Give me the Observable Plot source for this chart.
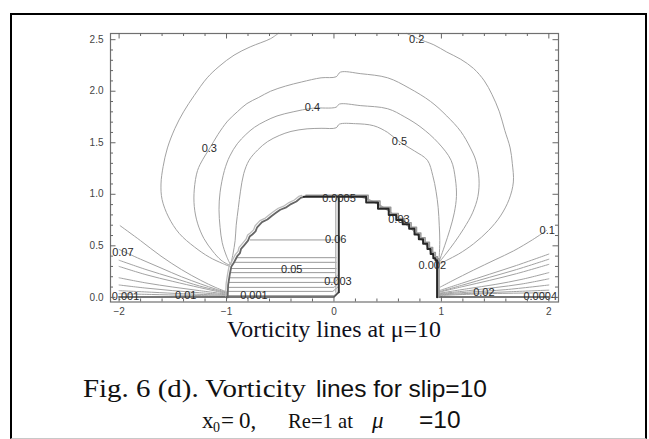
<!DOCTYPE html>
<html>
<head>
<meta charset="utf-8">
<script src="https://cdn.jsdelivr.net/npm/d3@7"></script>
<script src="https://cdn.jsdelivr.net/npm/@observablehq/plot@0.6"></script>
<style>
  html, body { margin: 0; padding: 0; background: #fff; }
  #page { position: relative; width: 649px; height: 439px; overflow: hidden; background: #fff; }
  #chart { position: absolute; left: 0; top: 0; }
  #box { position: absolute; left: 10px; top: 12.5px; width: 636.5px; height: 426px; box-sizing: border-box;
         border: 2.5px solid #000; border-bottom: 1.5px solid #c8c8c8; }
  #captions { position: absolute; left: 0; top: 0; }
</style>
</head>
<body>
<div id="page">
  <div id="chart"></div>
  <div id="box"></div>
  <svg id="captions" width="649" height="439">
    <text x="227" y="336.5" font-family="Liberation Serif" font-size="23" fill="#10101c" textLength="214" lengthAdjust="spacingAndGlyphs">Vorticity lines at μ=10</text>
    <text x="83" y="397" font-family="Liberation Serif" font-size="25" fill="#111" textLength="223" lengthAdjust="spacingAndGlyphs">Fig. 6 (d). Vorticity</text>
    <text x="316" y="397" font-family="Liberation Sans" font-size="24.5" fill="#111">lines for slip=10</text>
    <text x="202" y="427.5" font-family="Liberation Serif" font-size="23" fill="#111">x</text>
    <text x="213" y="432" font-family="Liberation Serif" font-size="14" fill="#111">0</text>
    <text x="221" y="427.5" font-family="Liberation Serif" font-size="23" fill="#111">=</text>
    <text x="239" y="427.5" font-family="Liberation Serif" font-size="23" fill="#111">0,</text>
    <text x="288" y="427.5" font-family="Liberation Serif" font-size="22" fill="#111" textLength="65" lengthAdjust="spacingAndGlyphs">Re=1 at</text>
    <text x="372" y="427.5" font-family="Liberation Serif" font-size="23" font-style="italic" fill="#111">μ</text>
    <text x="419" y="427.5" font-family="Liberation Sans" font-size="24.5" fill="#111">=10</text>
  </svg>
</div>
<script>
// Axis ticks
const xMajor = [-2, -1, 0, 1, 2];
const xMinor = [-1.8, -1.6, -1.4, -1.2, -0.8, -0.6, -0.4, -0.2, 0.2, 0.4, 0.6, 0.8, 1.2, 1.4, 1.6, 1.8];
const yMajor = [0, 0.5, 1, 1.5, 2, 2.5];
const yMinor = [0.1, 0.2, 0.3, 0.4, 0.6, 0.7, 0.8, 0.9, 1.1, 1.2, 1.3, 1.4, 1.6, 1.7, 1.8, 1.9, 2.1, 2.2, 2.3, 2.4];

// Outer vorticity contours (level 0.2 leaves the top of the frame)
const arc02Left = [[-0.52,2.56],[-0.59,2.51],[-0.78,2.43],[-0.93,2.35],[-1.07,2.24],[-1.18,2.13],[-1.30,1.96],[-1.40,1.80],[-1.48,1.64],[-1.55,1.45],[-1.59,1.27],[-1.61,1.10],[-1.60,0.95],[-1.54,0.78],[-1.44,0.62],[-1.30,0.49],[-1.16,0.39],[-1.04,0.33],[-0.97,0.30]];
const arc02Right = [[0.68,2.56],[0.78,2.51],[0.93,2.45],[1.05,2.38],[1.18,2.31],[1.30,2.22],[1.40,2.10],[1.47,1.97],[1.54,1.80],[1.59,1.62],[1.64,1.45],[1.66,1.30],[1.67,1.12],[1.63,0.95],[1.55,0.79],[1.44,0.65],[1.30,0.52],[1.16,0.42],[1.05,0.36],[0.98,0.32]];
const arc03 = [[-0.97,0.31],[-1.05,0.36],[-1.13,0.45],[-1.21,0.57],[-1.27,0.72],[-1.30,0.88],[-1.30,1.05],[-1.27,1.23],[-1.22,1.34],[-1.16,1.44],[-1.08,1.58],[-0.99,1.71],[-0.90,1.80],[-0.81,1.88],[-0.70,1.94],[-0.59,2.00],[-0.45,2.05],[-0.30,2.09],[-0.12,2.13],[0.02,2.14],[0.06,2.185],[0.25,2.17],[0.50,2.13],[0.70,2.03],[0.90,1.90],[1.05,1.76],[1.18,1.61],[1.27,1.45],[1.32,1.33],[1.35,1.15],[1.34,0.98],[1.29,0.82],[1.21,0.67],[1.12,0.53],[1.04,0.42],[0.98,0.34]];
const arc04 = [[-0.965,0.32],[-1.00,0.40],[-1.04,0.53],[-1.06,0.68],[-1.07,0.85],[-1.06,1.02],[-1.02,1.23],[-0.97,1.37],[-0.90,1.49],[-0.82,1.58],[-0.74,1.65],[-0.64,1.71],[-0.53,1.76],[-0.38,1.80],[-0.20,1.835],[0.02,1.845],[0.05,1.875],[0.25,1.86],[0.50,1.83],[0.66,1.75],[0.81,1.65],[0.97,1.50],[1.09,1.33],[1.13,1.15],[1.14,0.98],[1.12,0.82],[1.08,0.66],[1.03,0.50],[0.99,0.38],[0.975,0.33]];
const arc05 = [[-0.96,0.32],[-0.94,0.42],[-0.92,0.55],[-0.91,0.70],[-0.89,0.87],[-0.87,1.03],[-0.84,1.20],[-0.79,1.33],[-0.71,1.43],[-0.62,1.51],[-0.51,1.57],[-0.40,1.61],[-0.25,1.635],[-0.12,1.64],[0.02,1.645],[0.05,1.68],[0.20,1.685],[0.37,1.665],[0.50,1.60],[0.61,1.51],[0.75,1.42],[0.87,1.33],[0.92,1.18],[0.95,1.03],[0.97,0.87],[0.98,0.70],[0.985,0.55],[0.98,0.40],[0.975,0.33]];

// Fan of low-level contours meeting the left corner (x = -1)
const fanL1 = [[-1.99,0.695],[-1.80,0.55],[-1.61,0.40],[-1.42,0.27],[-1.24,0.165],[-1.10,0.095],[-0.99,0.05]];
const fanL2 = [[-2.0,0.465],[-1.80,0.37],[-1.61,0.285],[-1.42,0.20],[-1.24,0.13],[-1.10,0.08],[-0.99,0.045]];
const fanL3 = [[-2.0,0.36],[-1.75,0.27],[-1.50,0.19],[-1.25,0.11],[-1.10,0.07],[-0.99,0.04]];
const fanL4 = [[-2.0,0.30],[-1.75,0.22],[-1.50,0.155],[-1.25,0.095],[-1.10,0.06],[-0.99,0.035]];
const fanL5 = [[-2.0,0.19],[-1.75,0.14],[-1.50,0.10],[-1.25,0.065],[-0.99,0.03]];
const fanL6 = [[-2.0,0.12],[-1.75,0.09],[-1.50,0.065],[-1.25,0.045],[-0.99,0.025]];
const fanL7 = [[-2.0,0.065],[-1.70,0.05],[-1.40,0.035],[-0.99,0.02]];
const fanL8 = [[-2.0,0.035],[-1.70,0.028],[-1.38,0.02],[-0.99,0.012]];

// Fan of low-level contours meeting the right corner (x = 1)
const fanR1 = [[0.99,0.10],[1.10,0.16],[1.30,0.265],[1.50,0.365],[1.67,0.45],[1.85,0.56],[1.98,0.65]];
const fanR2 = [[0.98,0.065],[1.20,0.14],[1.45,0.225],[1.70,0.31],[2.0,0.42]];
const fanR3 = [[0.98,0.055],[1.20,0.12],[1.45,0.195],[1.70,0.27],[2.0,0.37]];
const fanR4 = [[0.98,0.05],[1.20,0.105],[1.45,0.165],[1.70,0.23],[2.0,0.32]];
const fanR5 = [[0.98,0.04],[1.25,0.085],[1.50,0.125],[1.75,0.175],[2.0,0.24]];
const fanR6 = [[0.98,0.035],[1.25,0.065],[1.50,0.095],[1.75,0.13],[2.0,0.18]];
const fanR7 = [[0.98,0.03],[1.25,0.05],[1.60,0.075],[2.0,0.12]];
const fanR8 = [[0.98,0.025],[1.30,0.04],[1.65,0.055],[2.0,0.07]];
const fanR9 = [[0.98,0.018],[1.40,0.035],[2.0,0.045]];

// Near-wall lines along y = 0
const baseLeft = [[-2.0,0.004],[-1.0,0.004],[0.0,0.004],[0.045,0.05]];
const baseRight = [[0.96,0.004],[2.0,0.004]];

// Horizontal contours inside the left half of the cavity
const cellRows = [
  [[-0.78,0.557],[0.02,0.557]],
  [[-0.905,0.385],[0.02,0.385]],
  [[-0.93,0.34],[0.02,0.34]],
  [[-0.958,0.28],[0.02,0.28]],
  [[-0.965,0.24],[0.015,0.24]],
  [[-0.97,0.19],[0.01,0.19],[0.03,0.21]],
  [[-0.975,0.145],[0.005,0.145],[0.03,0.17]],
  [[-0.98,0.097],[0.0,0.097],[0.03,0.125]],
  [[-0.985,0.058],[-0.01,0.058],[0.035,0.10]],
  [[-0.99,0.017],[0.0,0.017],[0.05,0.065]]
];

// Cavity outline: curved left side, stepped right side, dividing wall
const bubbleEdge = [[-0.99,0.0],[-0.985,0.12],[-0.97,0.22],[-0.955,0.30],[-0.935,0.33],[-0.915,0.37],[-0.90,0.40],[-0.875,0.43],[-0.865,0.47],[-0.84,0.50],[-0.80,0.55],[-0.785,0.59],[-0.76,0.61],[-0.73,0.64],[-0.715,0.68],[-0.67,0.73],[-0.62,0.755],[-0.58,0.79],[-0.54,0.82],[-0.50,0.85],[-0.45,0.87],[-0.40,0.905],[-0.35,0.93],[-0.31,0.965],[-0.28,0.975]];
const stairs = [[-0.28,0.975],[0.30,0.92],[0.41,0.86],[0.51,0.80],[0.58,0.75],[0.64,0.71],[0.70,0.665],[0.75,0.61],[0.79,0.565],[0.83,0.52],[0.87,0.47],[0.90,0.42],[0.925,0.38],[0.945,0.36],[0.96,0.0]];
const stairsShade = [[0.22,0.985],[0.32,0.95],[0.42,0.90],[0.52,0.83],[0.60,0.77],[0.67,0.71],[0.74,0.645],[0.80,0.58],[0.85,0.52],[0.89,0.46],[0.925,0.40],[0.95,0.35],[0.965,0.30],[0.97,0.0]];
const divider = [[0.045,0.05],[0.045,0.975]];

// Contour level labels
const labelText = ["0.2","0.3","0.4","0.5","0.1","0.07","0.0005","0.06","0.05","0.003","0.03","0.002","0.001","0.01","0.001","0.02","0.0004"];
const labelX = [0.77,-1.16,-0.20,0.61,1.985,-1.965,0.047,0.016,-0.393,0.037,0.605,0.915,-1.94,-1.38,-0.745,1.395,1.92];
const labelY = [2.505,1.44,1.84,1.51,0.647,0.44,0.964,0.557,0.275,0.152,0.76,0.307,0.004,0.02,0.017,0.045,0.01];

const toRows = groups => groups.flatMap(([id, pts]) => pts.map(([x, y]) => ({id, x, y})));
const contours = toRows([
  ["a02L", arc02Left], ["a02R", arc02Right], ["a03", arc03], ["a04", arc04], ["a05", arc05],
  ["fl1", fanL1], ["fl2", fanL2], ["fl3", fanL3], ["fl4", fanL4], ["fl5", fanL5], ["fl6", fanL6], ["fl7", fanL7], ["fl8", fanL8],
  ["fr1", fanR1], ["fr2", fanR2], ["fr3", fanR3], ["fr4", fanR4], ["fr5", fanR5], ["fr6", fanR6], ["fr7", fanR7], ["fr8", fanR8], ["fr9", fanR9]
]);
const cells = toRows(cellRows.map((pts, i) => ["c" + i, pts]));
const bases = toRows([["bl", baseLeft], ["br", baseRight]]);
const labels = labelText.map((t, i) => ({t, x: labelX[i], y: labelY[i]}));

const fmtX = d => d < 0 ? "\u2212" + (-d) : String(d);
const px = d => d[0], py = d => d[1];
const tick = {stroke: "#666", strokeWidth: 1};

const chart = Plot.plot({
  width: 649,
  height: 340,
  marginLeft: 110,
  marginRight: 91,
  marginTop: 33,
  marginBottom: 38.5,
  x: {domain: [-2.08, 2.09], axis: null},
  y: {domain: [-0.045, 2.56], axis: null},
  style: {background: "transparent", fontFamily: "Liberation Sans", fontSize: "10px"},
  marks: [
    Plot.line(contours, {x: "x", y: "y", z: "id", stroke: "#a2a2a2", strokeWidth: 1, curve: "catmull-rom"}),
    Plot.line(cells, {x: "x", y: "y", z: "id", stroke: "#999", strokeWidth: 1}),
    Plot.line(bases, {x: "x", y: "y", z: "id", stroke: "#4a4a4a", strokeWidth: 1.6}),
    Plot.line(bubbleEdge, {x: px, y: py, stroke: "#bcbcbc", strokeWidth: 1.3, dx: -2, dy: -1.5}),
    Plot.line(bubbleEdge, {x: px, y: py, stroke: "#666", strokeWidth: 1.8}),
    Plot.line(stairsShade, {x: px, y: py, stroke: "#a6a6a6", strokeWidth: 1.3}),
    Plot.line(stairs, {x: px, y: py, curve: "step-after", stroke: "#9a9a9a", strokeWidth: 1.5, dx: 2, dy: -1.5}),
    Plot.line(stairs, {x: px, y: py, curve: "step-after", stroke: "#262626", strokeWidth: 2}),
    Plot.line(divider, {x: px, y: py, stroke: "#b0b0b0", strokeWidth: 1.3, dx: -3}),
    Plot.line(divider, {x: px, y: py, stroke: "#333", strokeWidth: 2}),
    Plot.text(labels, {x: "x", y: "y", text: "t", fontSize: 11, fill: "#2a2a2a", fontFamily: "Liberation Sans"}),
    Plot.frame({stroke: "#707070", strokeWidth: 1.2}),
    Plot.tickX(xMajor, {x: d => d, insetTop: 263, ...tick}),
    Plot.tickX(xMinor, {x: d => d, insetTop: 265.5, ...tick}),
    Plot.tickX(xMajor, {x: d => d, insetBottom: 263, ...tick}),
    Plot.tickX(xMinor, {x: d => d, insetBottom: 265.5, ...tick}),
    Plot.tickY(yMajor, {y: d => d, insetRight: 442.5, ...tick}),
    Plot.tickY(yMinor, {y: d => d, insetRight: 445, ...tick}),
    Plot.tickY(yMajor, {y: d => d, insetLeft: 442.5, ...tick}),
    Plot.tickY(yMinor, {y: d => d, insetLeft: 445, ...tick}),
    Plot.text(xMajor, {x: d => d, frameAnchor: "bottom", lineAnchor: "top", dy: 6, text: fmtX, fontSize: 10, fill: "#444"}),
    Plot.text(yMajor, {y: d => d, frameAnchor: "left", textAnchor: "end", dx: -7, text: d => d.toFixed(1), fontSize: 10, fill: "#444"})
  ]
});
document.getElementById("chart").appendChild(chart);
</script>
</body>
</html>
